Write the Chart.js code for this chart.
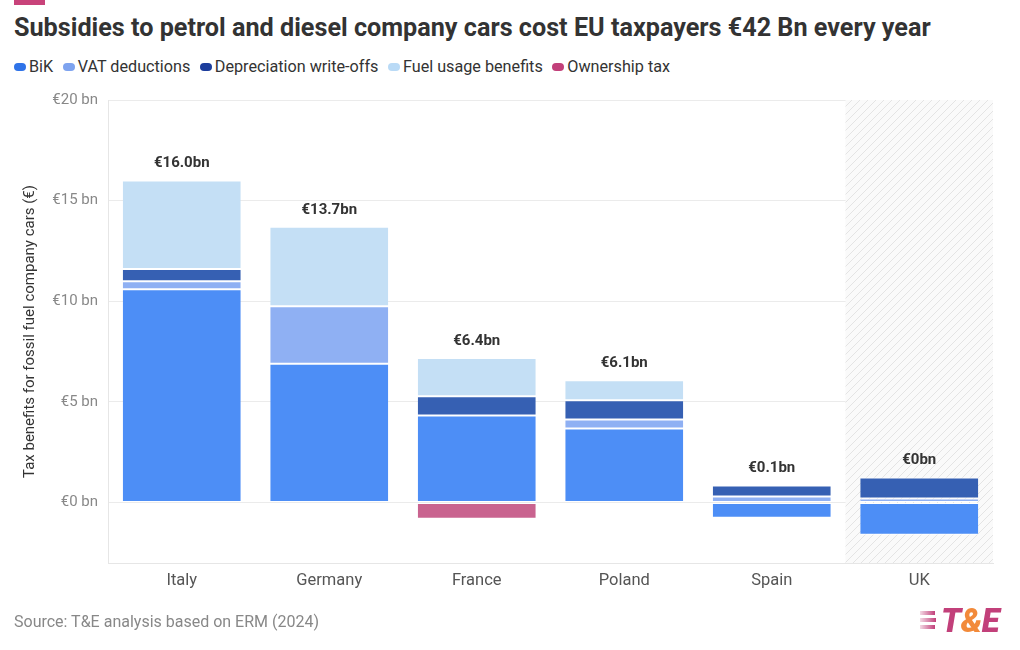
<!DOCTYPE html>
<html><head><meta charset="utf-8">
<script src="https://cdn.jsdelivr.net/npm/chart.js@4"></script>
<style>
body{margin:0;width:1020px;height:650px;overflow:hidden;background:#fff;font-family:Roboto,"Noto Sans",sans-serif;position:relative}
#topbar{position:absolute;left:14px;top:0;width:31px;height:5px;background:#c8437a}
#title{position:absolute;left:14px;top:13px;font-weight:700;font-size:25.2px;color:#333;white-space:nowrap}
#legend{position:absolute;left:14px;top:57px;font-size:16.2px;color:#333;display:flex;align-items:center;white-space:nowrap}
#legend .it{display:flex;align-items:center;margin-right:9.5px}
#legend .mk{display:inline-block;width:12px;height:8px;border-radius:4px;margin-right:3px}
#source{position:absolute;left:14px;top:612px;font-size:16px;color:#888}
#logo{position:absolute;left:920px;top:604px;height:32px;display:flex;align-items:center}
#logo .st{display:flex;flex-direction:column;margin-right:5px}
#logo .st div{height:4px;margin:1.5px 0;background:linear-gradient(90deg,rgba(194,64,122,0.2),#c2407a)}
#logo .tx{font-weight:900;font-style:italic;font-size:33px;color:#c2407a;letter-spacing:-0.5px}
#logo .tx span{color:#f28a3a}
canvas{position:absolute;left:0;top:0}
</style></head>
<body>
<div id="topbar"></div>
<div id="title">Subsidies to petrol and diesel company cars cost EU taxpayers €42 Bn every year</div>
<div id="legend"></div>
<canvas id="c" width="1020" height="650"></canvas>
<div id="source">Source: T&amp;E analysis based on ERM (2024)</div>
<div id="logo"><div class="st"><div style="width:15px"></div><div style="width:16px"></div><div style="width:15px"></div></div><div class="tx">T<span>&amp;</span>E</div></div>
<script>
const categories = ['Italy','Germany','France','Poland','Spain','UK'];
const bik          = [10.6, 6.9, 4.33, 3.68, -0.75, -1.6];
const vat          = [0.4, 2.85, null, 0.45, 0.3, 0.2];
const depreciation = [0.6, null, 0.95, 0.95, 0.55, 1.05];
const fuel         = [4.4, 3.95, 1.9, 1.0, null, null];
const ownership    = [null, null, -0.8, null, null, null];
const totalLabels  = ['€16.0bn','€13.7bn','€6.4bn','€6.1bn','€0.1bn','€0bn'];
const yTicks = [0, 5, 10, 15, 20];
const seriesNames = ['BiK','VAT deductions','Depreciation write-offs','Fuel usage benefits','Ownership tax'];
const barColors = ['#4d8ef6','#8fb0f3','#3660b3','#c4dff5','#c9638f'];
const legendColors = ['#2f73e8','#7ea3ef','#1c3d9c','#b9daf6','#c2407a'];
const highlighted = 'UK';

const lg = document.getElementById('legend');
seriesNames.forEach((n,i)=>{
  const d=document.createElement('div');d.className='it';
  d.innerHTML='<span class="mk" style="background:'+legendColors[i]+'"></span>'+n;
  lg.appendChild(d);
});

function hatch(){
  const p=document.createElement('canvas');p.width=8;p.height=8;
  const x=p.getContext('2d');
  x.fillStyle='#fafafa';x.fillRect(0,0,8,8);
  x.strokeStyle='#e4e4e4';x.lineWidth=1;
  x.beginPath();x.moveTo(0,8);x.lineTo(8,0);x.moveTo(-4,4);x.lineTo(4,-4);x.moveTo(4,12);x.lineTo(12,4);x.stroke();
  return x.createPattern(p,'repeat');
}

const bgPlugin={id:'bg',beforeDatasetsDraw(chart){
  const {ctx,chartArea:a,scales:{x}}=chart;
  const i=categories.indexOf(highlighted);
  const w=(x.right-x.left)/categories.length;
  const l=x.left+i*w;
  ctx.save();ctx.fillStyle=hatch();ctx.fillRect(l,a.top,w,a.bottom-a.top);ctx.restore();
}};
const labelPlugin={id:'lbl',afterDatasetsDraw(chart){
  const {ctx,scales:{x,y}}=chart;
  ctx.save();ctx.font='bold 15px Roboto';ctx.fillStyle='#333';ctx.textAlign='center';ctx.textBaseline='middle';
  categories.forEach((c,i)=>{
    let pos=0;chart.data.datasets.forEach(ds=>{const v=ds.data[i];if(v>0)pos+=v;});
    ctx.fillText(totalLabels[i],x.getPixelForValue(i),y.getPixelForValue(pos)-17);
  });
  ctx.restore();
}};

const series=[bik,vat,depreciation,fuel,ownership];
new Chart(document.getElementById('c'),{
  type:'bar',
  data:{labels:categories,datasets:series.map((d,i)=>({label:seriesNames[i],data:d,backgroundColor:barColors[i],borderColor:'#fff',borderWidth:{top:1,bottom:1,left:0,right:0},borderSkipped:false,categoryPercentage:0.8,barPercentage:1}))},
  options:{
    responsive:false,animation:false,
    layout:{padding:{top:100,left:0,right:27,bottom:47}},
    plugins:{legend:{display:false},tooltip:{enabled:false}},
    scales:{
      x:{stacked:true,grid:{display:false},border:{color:'#e6e6e6'},
        ticks:{font:{family:'Roboto',size:16.5},color:'#555',padding:0},
        afterFit(s){s.height=40;}},
      y:{stacked:true,min:-3,max:20,
        afterBuildTicks(s){s.ticks=yTicks.map(v=>({value:v}));},
        grid:{color:'#ebebeb',drawTicks:false},border:{color:'#e6e6e6'},
        ticks:{font:{family:'Roboto',size:15},color:'#888',padding:10,callback:v=>'€'+v+' bn'},
        title:{display:true,text:'Tax benefits for fossil fuel company cars (€)',font:{family:'Roboto',size:15},color:'#333',padding:{top:21,bottom:0}},
        afterFit(s){s.width=108;}}
    }
  },
  plugins:[bgPlugin,labelPlugin]
});
</script>
</body></html>
